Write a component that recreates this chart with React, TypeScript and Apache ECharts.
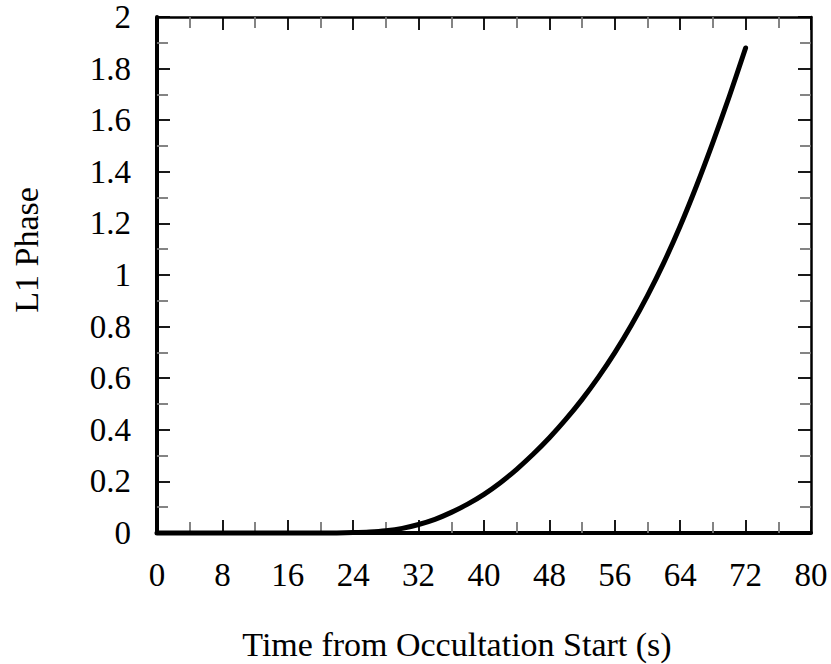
import React, { useEffect, useRef } from "react";
import * as echarts from "echarts";

const timeSec = [0, 4, 8, 12, 16, 20, 22, 24, 26, 28, 30, 32, 34, 36, 38, 40, 42, 44, 46, 48, 50, 52, 54, 56, 58, 60, 62, 64, 66, 68, 70, 72];
const l1Phase = [0, 0, 0, 0, 0, 0, 0.0003, 0.0015, 0.004, 0.009, 0.018, 0.033, 0.053, 0.08, 0.112, 0.15, 0.195, 0.247, 0.305, 0.369, 0.44, 0.518, 0.604, 0.699, 0.804, 0.92, 1.048, 1.19, 1.346, 1.514, 1.692, 1.88];

const xName = "Time from Occultation Start (s)";
const yName = "L1 Phase";

const FONT = "'Liberation Serif', 'Times New Roman', serif";

export default function App() {
  const ref = useRef<HTMLDivElement>(null);
  useEffect(() => {
    if (!ref.current) return;
    const chart = echarts.init(ref.current, undefined, { renderer: "svg" });
    const tickCommon = {
      show: true,
      inside: true,
      length: 13,
      lineStyle: { color: "#000", width: 1.8 },
    };
    const minorCommon = {
      show: true,
      splitNumber: 2,
      length: 11,
      lineStyle: { color: "#777", width: 1.8 },
    };
    const xBase = {
      type: "value" as const,
      min: 0,
      max: 80,
      interval: 8,
      splitLine: { show: false },
      minorTick: minorCommon,
      axisTick: tickCommon,
    };
    const yBase = {
      type: "value" as const,
      min: 0,
      max: 2,
      interval: 0.2,
      splitLine: { show: false },
      minorTick: minorCommon,
      axisTick: tickCommon,
    };
    chart.setOption({
      animation: false,
      backgroundColor: "#fff",
      grid: { left: 157, top: 17, right: 20, bottom: 131, containLabel: false },
      xAxis: [
        {
          ...xBase,
          position: "bottom",
          axisLine: { show: true, onZero: false, lineStyle: { color: "#000", width: 4 } },
          axisLabel: { show: true, margin: 25, color: "#000", fontSize: 33, fontFamily: FONT },
        },
        {
          ...xBase,
          position: "top",
          axisLine: { show: true, onZero: false, lineStyle: { color: "#000", width: 2.5 } },
          axisLabel: { show: false },
        },
      ],
      yAxis: [
        {
          ...yBase,
          position: "left",
          axisLine: { show: true, onZero: false, lineStyle: { color: "#000", width: 4 } },
          axisLabel: {
            show: true,
            margin: 26,
            color: "#000",
            fontSize: 33,
            fontFamily: FONT,
            formatter: (v: number) => String(Math.round(v * 10) / 10),
          },
        },
        {
          ...yBase,
          position: "right",
          axisLine: { show: true, onZero: false, lineStyle: { color: "#000", width: 2.5 } },
          axisLabel: { show: false },
        },
      ],
      graphic: [
        {
          type: "text",
          x: 457,
          y: 644,
          style: {
            text: xName,
            fill: "#000",
            fontSize: 34,
            fontFamily: FONT,
            align: "center",
            verticalAlign: "middle",
          },
        },
        {
          type: "text",
          x: 26,
          y: 250,
          rotation: Math.PI / 2,
          style: {
            text: yName,
            fill: "#000",
            fontSize: 34,
            fontFamily: FONT,
            align: "center",
            verticalAlign: "middle",
          },
        },
      ],
      series: [
        {
          type: "line",
          xAxisIndex: 0,
          yAxisIndex: 0,
          data: timeSec.map((t, i) => [t, l1Phase[i]]),
          smooth: 0.3,
          symbol: "none",
          clip: false,
          lineStyle: { color: "#000", width: 5, cap: "round", join: "round" },
        },
      ],
    });
    return () => chart.dispose();
  }, []);
  return (
    <div
      ref={ref}
      style={{ position: "absolute", left: 0, top: 0, width: 831, height: 664 }}
    />
  );
}
